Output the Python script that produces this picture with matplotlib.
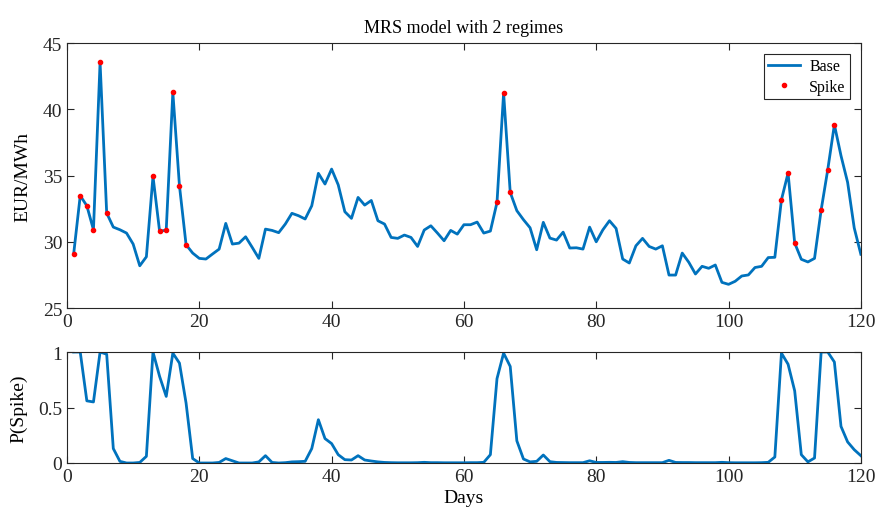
import numpy as np
import matplotlib
matplotlib.use("Agg")
import matplotlib.pyplot as plt

# --- data ---
days = list(range(1, 121))

price = [
    29.05, 33.48, 32.72, 30.91, 43.54, 32.17, 31.11, 30.91, 30.66, 29.83,
    28.19, 28.87, 34.94, 30.79, 30.89, 41.28, 34.23, 29.78, 29.15, 28.75,
    28.70, 29.08, 29.45, 31.39, 29.83, 29.90, 30.38, 29.58, 28.75, 30.96,
    30.86, 30.69, 31.34, 32.15, 31.97, 31.72, 32.72, 35.17, 34.36, 35.49,
    34.30, 32.27, 31.77, 33.35, 32.77, 33.12, 31.59, 31.34, 30.33, 30.26,
    30.51, 30.33, 29.65, 30.89, 31.21, 30.66, 30.08, 30.86, 30.58, 31.29,
    31.29, 31.49, 30.66, 30.81, 32.97, 41.23, 33.73, 32.35, 31.67, 31.06,
    29.40, 31.47, 30.28, 30.13, 30.73, 29.53, 29.55, 29.45, 31.11, 30.00,
    30.90, 31.59, 31.01, 28.70, 28.40, 29.70, 30.26, 29.65, 29.45, 29.70,
    27.49, 27.49, 29.15, 28.45, 27.57, 28.15, 28.00, 28.25, 26.94, 26.79,
    27.02, 27.42, 27.50, 28.06, 28.15, 28.81, 28.83, 33.18, 35.19, 29.91,
    28.68, 28.48, 28.75, 32.40, 35.45, 38.84, 36.50, 34.49, 31.05, 29.06,
]

spike_days = [1, 2, 3, 4, 5, 6, 13, 14, 15, 16, 17, 18,
              65, 66, 67, 108, 109, 110, 114, 115, 116]

p_spike = [
    1.00, 1.00, 0.56, 0.55, 1.00, 0.98, 0.13, 0.015, 0.00, 0.00,
    0.005, 0.06, 1.00, 0.78, 0.60, 0.99, 0.90, 0.54, 0.04, 0.00,
    0.00, 0.00, 0.005, 0.04, 0.02, 0.00, 0.00, 0.00, 0.01, 0.066,
    0.005, 0.00, 0.003, 0.01, 0.012, 0.015, 0.13, 0.39, 0.22, 0.175,
    0.075, 0.03, 0.027, 0.066, 0.027, 0.018, 0.01, 0.005, 0.003, 0.002,
    0.002, 0.002, 0.003, 0.006, 0.003, 0.003, 0.002, 0.002, 0.002, 0.002,
    0.003, 0.003, 0.006, 0.075, 0.76, 0.99, 0.87, 0.20, 0.036, 0.01,
    0.015, 0.072, 0.012, 0.005, 0.004, 0.003, 0.003, 0.003, 0.02, 0.005,
    0.005, 0.006, 0.005, 0.012, 0.005, 0.003, 0.003, 0.003, 0.003, 0.003,
    0.024, 0.005, 0.004, 0.004, 0.003, 0.003, 0.003, 0.003, 0.006, 0.003,
    0.002, 0.002, 0.002, 0.002, 0.003, 0.006, 0.054, 0.99, 0.89, 0.65,
    0.075, 0.01, 0.045, 1.00, 1.00, 0.91, 0.33, 0.19, 0.12, 0.066,
]

blue = "#0072BD"

plt.rcParams["font.family"] = ["Liberation Serif", "DejaVu Serif"]
plt.rcParams["axes.edgecolor"] = "#262626"
plt.rcParams["xtick.color"] = "#262626"
plt.rcParams["ytick.color"] = "#262626"

fig = plt.figure(figsize=(8.85, 5.10), dpi=100)
ax1 = fig.add_axes([0.0757, 0.394, 0.897, 0.5196])
ax2 = fig.add_axes([0.0757, 0.0902, 0.897, 0.2176])

# --- top panel ---
ax1.plot(days, price, color=blue, lw=2, label="Base")
sp_vals = [price[d - 1] for d in spike_days]
ax1.plot(spike_days, sp_vals, ".", color="red", ms=6, label="Spike")
ax1.set_xlim(0, 120)
ax1.set_ylim(25, 45)
ax1.set_xticks(range(0, 121, 20))
ax1.set_yticks(range(25, 46, 5))
ax1.set_ylabel("EUR/MWh", fontsize=14, labelpad=8)
ax1.set_title("MRS model with 2 regimes", fontsize=13, pad=8)
leg = ax1.legend(loc="upper right", fontsize=11.5, fancybox=False,
                 framealpha=1, edgecolor="#262626", handlelength=2.0,
                 handletextpad=0.6, borderpad=0.25, labelspacing=0.3,
                 borderaxespad=0.7)
leg.get_frame().set_linewidth(0.8)

# --- bottom panel ---
ax2.plot(days, p_spike, color=blue, lw=2)
ax2.set_xlim(0, 120)
ax2.set_ylim(0, 1)
ax2.set_xticks(range(0, 121, 20))
ax2.set_yticks([0, 0.5, 1])
ax2.set_yticklabels(["0", "0.5", "1"])
ax2.set_ylabel("P(Spike)", fontsize=14, labelpad=8)
ax2.set_xlabel("Days", fontsize=14, labelpad=3)

for ax in (ax1, ax2):
    ax.tick_params(direction="in", top=True, right=True, labelsize=14,
                   length=5, width=0.8)
    for s in ax.spines.values():
        s.set_linewidth(0.8)

fig.savefig("out.png", dpi=100)
